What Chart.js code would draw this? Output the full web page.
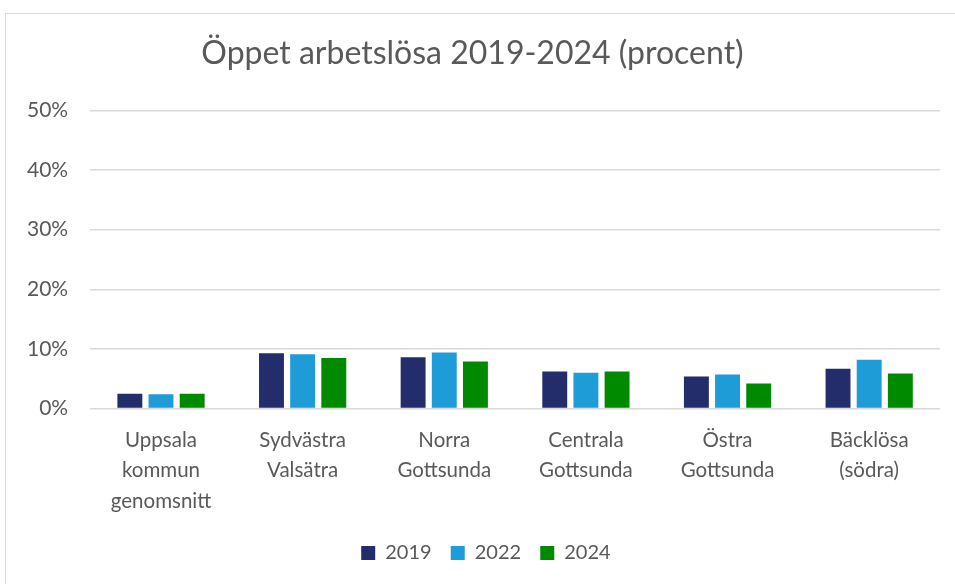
<!DOCTYPE html>
<html>
<head>
<meta charset="utf-8">
<script src="https://cdn.jsdelivr.net/npm/chart.js@4.4.1/dist/chart.umd.min.js"></script>
<style>
  body { margin: 0; background: #fff; overflow: hidden; }
  .frame { position: absolute; left: 5px; top: 13px; width: 960px; height: 580px; border: 1px solid #d9d9d9; }
  .wrap { position: absolute; left: 0; top: 0; width: 955px; height: 584px; }
</style>
</head>
<body>
<div class="frame"></div>
<div class="wrap"><canvas id="chart" width="955" height="584"></canvas></div>
<script>
const categories = [
	["Uppsala", "kommun", "genomsnitt"],
	["Sydvästra", "Valsätra"],
	["Norra", "Gottsunda"],
	["Centrala", "Gottsunda"],
	["Östra", "Gottsunda"],
	["Bäcklösa", "(södra)"]
];
const years = ["2019", "2022", "2024"];
const values2019 = [2.5, 9.3, 8.6, 6.2, 5.4, 6.7];
const values2022 = [2.4, 9.1, 9.4, 6.0, 5.7, 8.2];
const values2024 = [2.5, 8.5, 7.9, 6.2, 4.2, 5.9];
const colors = ["#232d6c", "#1e9cd7", "#008a00"];

const textColor = "#595959";
const fontFamily = "Lato, 'Open Sans', sans-serif";

const ctx = document.getElementById("chart");

// nudge the legend a bit right/down, like Excel places it
const legendShift = {
	id: "legendShift",
	afterLayout(chart) {
		chart.legend.left += 16;
		chart.legend.right += 16;
		chart.legend.top += 4;
		chart.legend.bottom += 4;
	},
};

const myChart = new Chart(ctx, {
	type: "bar",
	data: {
		labels: categories,
		datasets: [values2019, values2022, values2024].map((vals, i) => ({
			label: years[i],
			data: vals,
			backgroundColor: colors[i],
			borderColor: colors[i],
			borderWidth: 0,
			categoryPercentage: 0.66,
			barPercentage: 0.8,
		})),
	},
	plugins: [legendShift],
	options: {
		responsive: false,
		animation: false,
		layout: {
			padding: { left: 5, right: 15, top: 34, bottom: 15 },
		},
		plugins: {
			title: {
				display: true,
				text: "Öppet arbetslösa 2019-2024 (procent)",
				color: textColor,
				font: { family: fontFamily, size: 32, weight: "normal" },
				padding: { top: 0, bottom: 38 },
			},
			legend: {
				position: "bottom",
				labels: {
					color: textColor,
					font: { family: fontFamily, size: 20 },
					boxWidth: 14,
					boxHeight: 14,
					padding: 14,
					generateLabels: (chart) =>
						Chart.defaults.plugins.legend.labels.generateLabels(chart).map((l) => ({
							...l,
							text: l.text + " ",
						})),
				},
			},
			tooltip: { enabled: false },
		},
		scales: {
			x: {
				grid: { display: false },
				border: { display: false },
				ticks: {
					color: textColor,
					font: { family: fontFamily, size: 20.5, lineHeight: 1.47 },
					maxRotation: 0,
					padding: 9,
				},
			},
			y: {
				min: 0,
				max: 50,
				beginAtZero: true,
				grid: { color: "#d9d9d9", lineWidth: 1.5, drawTicks: false },
				border: { display: false },
				ticks: {
					stepSize: 10,
					color: textColor,
					font: { family: fontFamily, size: 21 },
					padding: 22,
					callback: (v) => v + "%",
				},
			},
		},
	},
});
</script>
</body>
</html>
